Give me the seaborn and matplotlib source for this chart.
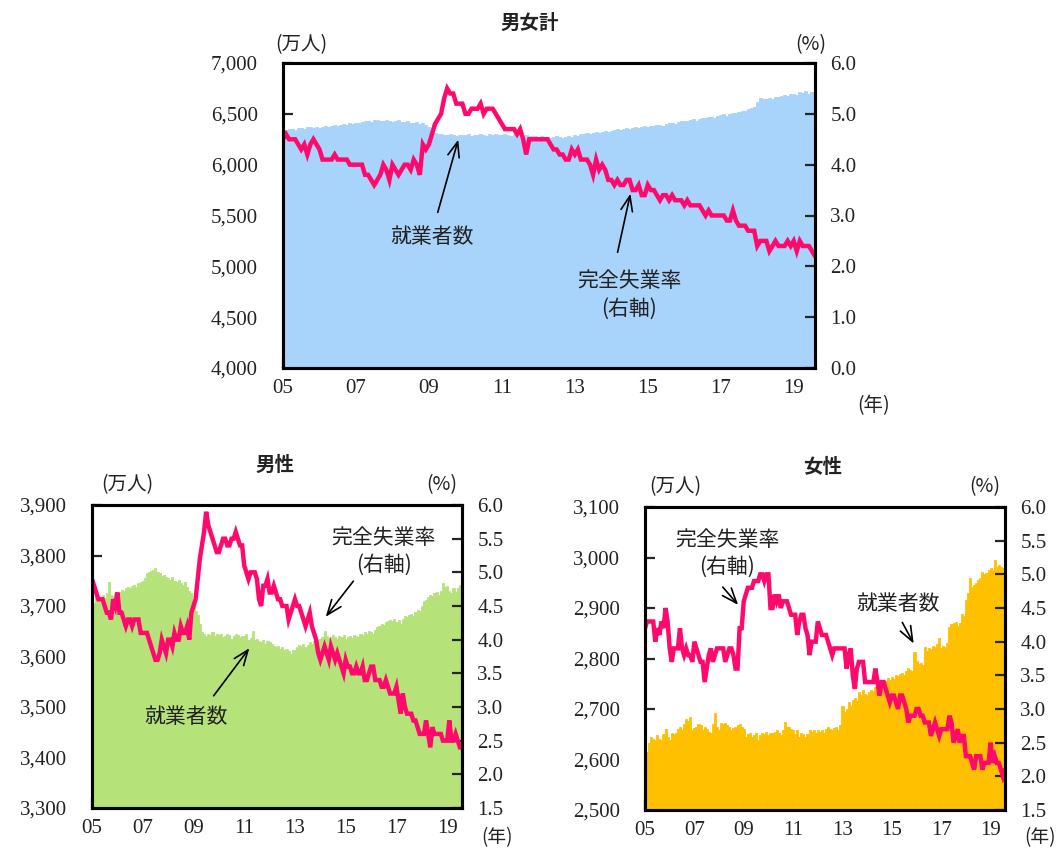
import matplotlib
matplotlib.use("Agg")
import matplotlib.pyplot as plt
import numpy as np
import pandas as pd
import seaborn as sns

# Monthly data, January 2005 - August 2019 (seasonally adjusted)
# Employed persons (10 thousand persons)
emp_total = [
    6330, 6345, 6350, 6355, 6340, 6360, 6365, 6355, 6375, 6370, 6360, 6370,  # 2005
    6365, 6375, 6380, 6370, 6385, 6390, 6385, 6395, 6400, 6395, 6405, 6400,  # 2006
    6405, 6410, 6420, 6425, 6430, 6420, 6435, 6440, 6430, 6425, 6435, 6430,  # 2007
    6420, 6425, 6435, 6415, 6420, 6425, 6405, 6410, 6415, 6400, 6405, 6390,  # 2008
    6375, 6350, 6310, 6300, 6305, 6295, 6290, 6300, 6295, 6285, 6290, 6295,  # 2009
    6290, 6300, 6285, 6295, 6290, 6300, 6295, 6285, 6300, 6290, 6300, 6295,  # 2010
    6290, 6300, 6295, 6285, 6300, 6290, 6285, 6295, 6290, 6280, 6285, 6280,  # 2011
    6275, 6280, 6270, 6275, 6265, 6270, 6280, 6275, 6265, 6270, 6280, 6275,  # 2012
    6290, 6280, 6300, 6305, 6310, 6300, 6315, 6320, 6310, 6325, 6330, 6320,  # 2013
    6335, 6340, 6350, 6345, 6355, 6360, 6350, 6365, 6370, 6360, 6375, 6380,  # 2014
    6370, 6385, 6380, 6390, 6395, 6385, 6400, 6405, 6410, 6400, 6420, 6425,  # 2015
    6430, 6425, 6440, 6445, 6430, 6450, 6455, 6460, 6470, 6465, 6460, 6480,  # 2016
    6490, 6495, 6480, 6500, 6510, 6505, 6520, 6525, 6530, 6550, 6560, 6570,  # 2017
    6620, 6655, 6650, 6645, 6660, 6650, 6665, 6670, 6680, 6690, 6675, 6695,  # 2018
    6700, 6690, 6715, 6705, 6720, 6700, 6715, 6705,                          # 2019
]
emp_male = [
    3715, 3705, 3720, 3712, 3718, 3722, 3715, 3725, 3748, 3722, 3720, 3725,  # 2005
    3722, 3728, 3732, 3730, 3735, 3738, 3735, 3740, 3742, 3738, 3745, 3748,  # 2006
    3750, 3755, 3765, 3767, 3770, 3772, 3776, 3768, 3765, 3760, 3762, 3758,  # 2007
    3755, 3752, 3758, 3750, 3748, 3752, 3745, 3742, 3748, 3738, 3730, 3725,  # 2008
    3700, 3690, 3682, 3665, 3648, 3645, 3640, 3645, 3642, 3648, 3640, 3645,  # 2009
    3642, 3645, 3638, 3640, 3645, 3642, 3635, 3640, 3645, 3642, 3638, 3640,  # 2010
    3640, 3645, 3632, 3636, 3650, 3632, 3635, 3630, 3628, 3632, 3625, 3630,  # 2011
    3628, 3625, 3620, 3618, 3620, 3615, 3618, 3612, 3615, 3610, 3605, 3612,  # 2012
    3612, 3618, 3622, 3620, 3625, 3618, 3622, 3628, 3625, 3630, 3628, 3632,  # 2013
    3635, 3638, 3650, 3640, 3636, 3638, 3642, 3638, 3635, 3640, 3638, 3642,  # 2014
    3635, 3638, 3640, 3636, 3642, 3640, 3638, 3645, 3642, 3648, 3645, 3650,  # 2015
    3648, 3645, 3652, 3658, 3660, 3665, 3662, 3668, 3670, 3672, 3670, 3675,  # 2016
    3668, 3672, 3665, 3675, 3680, 3678, 3682, 3685, 3680, 3688, 3692, 3690,  # 2017
    3700, 3710, 3712, 3718, 3722, 3720, 3725, 3728, 3722, 3730, 3745, 3738,  # 2018
    3740, 3730, 3725, 3735, 3728, 3735, 3742, 3738,                          # 2019
]
emp_female = [
    2632, 2614, 2632, 2645, 2640, 2638, 2648, 2640, 2639, 2650, 2661, 2645,  # 2005
    2639, 2652, 2650, 2652, 2660, 2665, 2658, 2670, 2681, 2676, 2684, 2658,  # 2006
    2662, 2665, 2670, 2668, 2658, 2664, 2661, 2655, 2652, 2670, 2692, 2665,  # 2007
    2658, 2672, 2670, 2672, 2668, 2665, 2658, 2662, 2665, 2668, 2670, 2665,  # 2008
    2660, 2645, 2650, 2652, 2645, 2648, 2652, 2639, 2648, 2652, 2650, 2655,  # 2009
    2648, 2652, 2652, 2655, 2658, 2652, 2648, 2658, 2675, 2665, 2665, 2660,  # 2010
    2658, 2650, 2658, 2645, 2652, 2650, 2645, 2650, 2658, 2655, 2658, 2652,  # 2011
    2658, 2655, 2658, 2652, 2660, 2665, 2660, 2658, 2662, 2665, 2658, 2668,  # 2012
    2705, 2695, 2700, 2714, 2705, 2718, 2721, 2715, 2734, 2728, 2738, 2730,  # 2013
    2728, 2734, 2738, 2736, 2744, 2740, 2750, 2757, 2750, 2755, 2761, 2758,  # 2014
    2764, 2760, 2767, 2765, 2770, 2771, 2768, 2775, 2781, 2778, 2775, 2813,  # 2015
    2795, 2790, 2792, 2788, 2823, 2815, 2820, 2818, 2825, 2823, 2828, 2840,  # 2016
    2820, 2825, 2823, 2830, 2863, 2868, 2870, 2873, 2865, 2870, 2889, 2885,  # 2017
    2916, 2930, 2959, 2942, 2945, 2950, 2955, 2960, 2972, 2968, 2970, 2975,  # 2018
    2979, 2975, 2995, 2982, 2985, 2982, 2980, 2979,                          # 2019
]

# Unemployment rate (%)
rate_total = [
    4.5, 4.6, 4.5, 4.5, 4.5, 4.4, 4.3, 4.4, 4.2, 4.4, 4.5, 4.4,  # 2005
    4.3, 4.1, 4.1, 4.1, 4.1, 4.2, 4.1, 4.1, 4.1, 4.1, 4.0, 4.0,  # 2006
    4.0, 4.0, 4.0, 3.8, 3.8, 3.7, 3.6, 3.7, 3.8, 4.0, 3.9, 3.7,  # 2007
    4.0, 3.9, 3.8, 3.9, 4.0, 4.0, 3.9, 4.1, 4.0, 3.8, 4.4, 4.3,  # 2008
    4.4, 4.6, 4.8, 4.9, 5.0, 5.3, 5.5, 5.4, 5.4, 5.2, 5.2, 5.2,  # 2009
    5.0, 5.0, 5.1, 5.1, 5.1, 5.2, 5.0, 5.1, 5.1, 5.1, 5.0, 4.9,  # 2010
    4.8, 4.7, 4.7, 4.7, 4.7, 4.6, 4.7, 4.5, 4.2, 4.5, 4.5, 4.5,  # 2011
    4.5, 4.5, 4.5, 4.5, 4.4, 4.3, 4.3, 4.2, 4.2, 4.1, 4.1, 4.3,  # 2012
    4.2, 4.3, 4.1, 4.1, 4.1, 4.0, 3.8, 4.1, 3.9, 4.0, 3.9, 3.7,  # 2013
    3.7, 3.6, 3.7, 3.6, 3.6, 3.7, 3.7, 3.5, 3.5, 3.6, 3.4, 3.4,  # 2014
    3.6, 3.5, 3.5, 3.4, 3.3, 3.4, 3.4, 3.3, 3.4, 3.3, 3.3, 3.3,  # 2015
    3.2, 3.3, 3.2, 3.2, 3.2, 3.2, 3.1, 3.0, 3.1, 3.0, 3.0, 3.0,  # 2016
    3.0, 3.0, 2.9, 2.9, 3.1, 2.9, 2.8, 2.8, 2.8, 2.7, 2.7, 2.7,  # 2017
    2.4, 2.5, 2.5, 2.5, 2.3, 2.4, 2.5, 2.4, 2.4, 2.4, 2.5, 2.4,  # 2018
    2.5, 2.3, 2.5, 2.4, 2.4, 2.4, 2.3, 2.2,                      # 2019
]
rate_male = [
    4.7, 4.8, 4.7, 4.6, 4.6, 4.6, 4.5, 4.4, 4.4, 4.3, 4.6, 4.5,  # 2005
    4.7, 4.4, 4.4, 4.3, 4.2, 4.3, 4.3, 4.2, 4.3, 4.3, 4.3, 4.1,  # 2006
    4.1, 4.1, 4.1, 4.0, 3.9, 3.8, 3.7, 3.7, 3.8, 4.0, 3.9, 3.8,  # 2007
    4.0, 4.0, 3.9, 4.1, 4.0, 4.0, 4.2, 4.1, 4.1, 4.2, 4.0, 4.4,  # 2008
    4.5, 4.6, 4.9, 5.2, 5.4, 5.6, 5.9, 5.7, 5.6, 5.5, 5.4, 5.3,  # 2009
    5.3, 5.4, 5.5, 5.5, 5.4, 5.4, 5.5, 5.5, 5.6, 5.5, 5.4, 5.4,  # 2010
    5.1, 5.0, 4.9, 5.0, 5.0, 5.0, 4.9, 4.6, 4.5, 4.8, 4.8, 4.9,  # 2011
    4.7, 4.7, 4.8, 4.7, 4.6, 4.6, 4.5, 4.5, 4.5, 4.3, 4.4, 4.5,  # 2012
    4.6, 4.5, 4.5, 4.4, 4.3, 4.2, 4.3, 4.4, 4.2, 4.1, 4.0, 3.8,  # 2013
    3.7, 3.8, 3.9, 3.8, 3.7, 3.9, 3.8, 3.7, 3.8, 3.7, 3.6, 3.5,  # 2014
    3.7, 3.6, 3.6, 3.5, 3.5, 3.6, 3.5, 3.5, 3.6, 3.4, 3.4, 3.5,  # 2015
    3.6, 3.6, 3.4, 3.4, 3.4, 3.3, 3.3, 3.4, 3.3, 3.2, 3.2, 3.2,  # 2016
    3.3, 3.1, 2.9, 3.2, 3.0, 2.9, 2.9, 2.9, 2.8, 2.8, 2.7, 2.6,  # 2017
    2.6, 2.6, 2.8, 2.6, 2.4, 2.7, 2.6, 2.6, 2.6, 2.6, 2.5, 2.5,  # 2018
    2.5, 2.8, 2.5, 2.5, 2.6, 2.5, 2.4, 2.4,                      # 2019
]
rate_female = [
    4.2, 4.3, 4.3, 4.3, 4.3, 4.0, 4.2, 4.1, 4.3, 4.2, 4.5, 4.3,  # 2005
    3.9, 3.7, 3.9, 3.9, 3.9, 4.2, 3.9, 3.8, 3.9, 3.8, 3.8, 3.7,  # 2006
    4.0, 3.9, 3.8, 3.7, 3.7, 3.4, 3.6, 3.8, 3.9, 3.7, 3.8, 3.9,  # 2007
    3.9, 3.9, 3.9, 3.7, 3.8, 3.9, 3.9, 3.8, 3.6, 3.6, 4.2, 4.2,  # 2008
    4.6, 4.7, 4.8, 4.8, 4.8, 4.9, 4.9, 4.9, 5.0, 5.0, 4.9, 5.0,  # 2009
    5.0, 4.5, 4.5, 4.7, 4.6, 4.7, 4.5, 4.6, 4.6, 4.6, 4.5, 4.4,  # 2010
    4.4, 4.4, 4.1, 4.3, 4.4, 4.4, 4.2, 4.1, 3.8, 4.0, 4.0, 4.0,  # 2011
    4.3, 4.2, 4.1, 4.1, 4.1, 4.0, 3.9, 3.8, 3.9, 3.9, 3.9, 3.9,  # 2012
    3.9, 3.9, 3.6, 3.8, 3.9, 3.5, 3.3, 3.6, 3.7, 3.7, 3.7, 3.4,  # 2013
    3.4, 3.4, 3.4, 3.4, 3.6, 3.4, 3.2, 3.4, 3.4, 3.3, 3.2, 3.1,  # 2014
    3.2, 3.2, 3.1, 3.0, 3.2, 3.2, 3.1, 3.0, 2.8, 2.9, 2.9, 2.9,  # 2015
    3.0, 3.0, 2.9, 2.9, 2.8, 2.8, 2.8, 2.6, 2.7, 2.8, 2.7, 2.6,  # 2016
    2.7, 2.7, 2.7, 2.7, 2.9, 2.8, 2.5, 2.6, 2.7, 2.5, 2.6, 2.6,  # 2017
    2.3, 2.3, 2.3, 2.2, 2.1, 2.3, 2.3, 2.3, 2.1, 2.2, 2.2, 2.2,  # 2018
    2.5, 2.2, 2.3, 2.2, 2.2, 2.1, 2.0, 2.1,                      # 2019
]

year_ticks = ["05", "", "07", "", "09", "", "11", "", "13", "", "15", "", "17", "", "19"]

sns.set_style("ticks")
plt.rcParams["font.family"] = ["Liberation Serif", "Noto Sans CJK JP"]
plt.rcParams["axes.unicode_minus"] = False

W, H = 1062, 852
fig = plt.figure(figsize=(W / 100, H / 100), dpi=100)

JP = "Noto Sans CJK JP"
LINE_COLOR = "#FF0A6C"
TXT = "#222222"


def px_rect(x0, y0, x1, y1):
    return [x0 / W, 1 - y1 / H, (x1 - x0) / W, (y1 - y0) / H]


def fig_pt(x, y):
    return (x / W, 1 - y / H)


def panel(rect, emp, rate, area_color, left_lim, left_step, left_fmt,
          right_lim, right_step):
    months = np.arange(len(emp))
    df = pd.DataFrame({"month": months, "emp": emp, "rate": rate})

    ax = fig.add_axes(rect)
    sns.barplot(data=df, x="month", y="emp", native_scale=True, width=1.0,
                color=area_color, saturation=1, errorbar=None,
                linewidth=0.6, edgecolor=area_color, ax=ax, zorder=1)
    ax.set_xlim(0, len(emp) - 1)
    ax.set_ylim(*left_lim)
    lt = np.arange(left_lim[0], left_lim[1] + 1, left_step)
    ax.set_yticks(lt)
    ax.set_yticklabels([left_fmt(v) for v in lt])
    ax.set_xticks(np.arange(0, len(emp), 12))
    ax.set_xticklabels(year_ticks)
    ax.set_xlabel("")
    ax.set_ylabel("")

    ax2 = ax.twinx()
    sns.lineplot(data=df, x="month", y="rate", color=LINE_COLOR, lw=3.2,
                 ax=ax2, solid_joinstyle="miter")
    ax2.set_xlim(0, len(emp) - 1)
    ax2.set_ylim(*right_lim)
    rt = np.round(np.arange(right_lim[0], right_lim[1] + 0.01, right_step), 1)
    ax2.set_yticks(rt)
    ax2.set_yticklabels([f"{v:.1f}" for v in rt])
    ax2.set_xlabel("")
    ax2.set_ylabel("")

    for a in (ax, ax2):
        for s in a.spines.values():
            s.set_visible(True)
            s.set_linewidth(2.2)
            s.set_color("black")
    ax.tick_params(axis="y", direction="in", length=7, width=1.6,
                   pad=18, labelsize=15, labelcolor=TXT, right=False)
    ax.tick_params(axis="x", direction="in", length=7, width=1.6,
                   pad=8, labelsize=15, labelcolor=TXT, top=False)
    ax2.tick_params(axis="y", direction="in", length=7, width=1.6,
                    pad=11, labelsize=15, labelcolor=TXT)
    return ax, ax2


def arrow(tail, tip):
    fig.add_artist(matplotlib.patches.FancyArrowPatch(
        fig_pt(*tail), fig_pt(*tip), transform=fig.transFigure,
        arrowstyle="->,head_length=0.9,head_width=0.35", mutation_scale=12,
        lw=1.2, color="black"))


def label(x, y, s, size=14.5, weight="normal", ha="center"):
    fx, fy = fig_pt(x, y)
    fig.text(fx, fy, s, ha=ha, va="center", fontsize=size, color=TXT,
             fontweight=weight, family=[JP, "DejaVu Sans"])


# Total
panel(px_rect(283, 63, 815, 368), emp_total, rate_total, "#A8D3FA",
      (4000, 7000), 500, lambda v: f"{v:,.0f}", (0, 6), 1.0)
label(530, 23, "男女計", size=14, weight="bold")
label(301, 45, "(万人)", size=14)
label(811, 45, "(%)", size=14)
label(874, 406, "(年)", size=14)
label(432, 237, "就業者数", size=15)
arrow((437, 215), (459, 137))
label(629, 281, "完全失業率", size=15)
label(629, 309, "(右軸)", size=15)
arrow((617, 255), (631, 191))

# Male
panel(px_rect(92, 505, 462, 808), emp_male, rate_male, "#B5E37A",
      (3300, 3900), 100, lambda v: f"{v:,.0f}", (1.5, 6.0), 0.5)
label(275, 465, "男性", size=14, weight="bold")
label(127, 485, "(万人)", size=14)
label(442, 485, "(%)", size=14)
label(497, 838, "(年)", size=13.5)
label(186, 717, "就業者数", size=15)
arrow((212, 698), (251, 646))
label(384, 538, "完全失業率", size=15)
label(384, 565, "(右軸)", size=15)
arrow((355, 579), (324, 619))

# Female
panel(px_rect(645, 507, 1005, 810), emp_female, rate_female, "#FFC000",
      (2500, 3100), 100, lambda v: f"{v:,.0f}", (1.5, 6.0), 0.5)
label(823, 467, "女性", size=14, weight="bold")
label(675, 487, "(万人)", size=14)
label(985, 487, "(%)", size=14)
label(1040, 838, "(年)", size=13.5)
label(898, 604, "就業者数", size=15)
arrow((901, 620), (915, 646))
label(727, 540, "完全失業率", size=15)
label(727, 567, "(右軸)", size=15)
arrow((721, 585), (740, 607))

fig.savefig("out.png", dpi=100)
